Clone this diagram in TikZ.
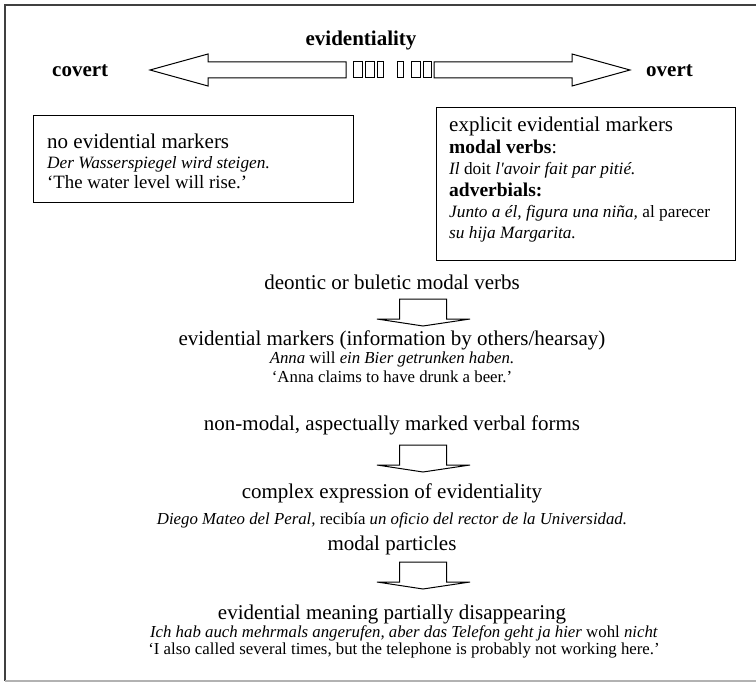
\documentclass[tikz,border=0pt]{standalone}
\usepackage{fontspec}
\setmainfont{Liberation Serif}[
  ItalicFont={Liberation Serif Italic},
  BoldFont={Liberation Serif Bold},
  BoldItalicFont={Liberation Serif Bold Italic}]
\begin{document}
\begin{tikzpicture}[x=1pt,y=-1pt,
  lbl/.style={inner sep=0pt, font=\fontsize{21}{25}\selectfont},
  hdr/.style={inner sep=0pt, font=\fontsize{21}{25}\selectfont\bfseries},
  exm/.style={inner sep=0pt, font=\fontsize{16.8}{20}\selectfont},
  bexm/.style={inner sep=0pt, font=\fontsize{17.3}{20}\selectfont},
  glossbx/.style={inner sep=0pt, font=\fontsize{18.8}{22}\selectfont},
  subhd/.style={inner sep=0pt, font=\fontsize{19.5}{22}\selectfont},
  textbox/.style={draw, line width=1.1pt, inner sep=0pt, anchor=north west},
  block/.style={draw, line width=1pt, line join=miter, fill=white},
  blockdown/.pic={
    \draw[block] (-23.5,0) -- (23.5,0) -- (23.5,20) -- (47,20) -- (0,27)
      -- (-46,20) -- (-23.5,20) -- cycle;
  },
]
\useasboundingbox (0,0) rectangle (756,682);

% page frame
\draw[line width=2pt, black!75] (5,681) -- (5,5) -- (756,5);
\draw[line width=1.5pt, black!30] (5,681) -- (756,681);

% scale of evidentiality
\node[hdr, anchor=base] (ev) at (361,46) {evidentiality};
\node[hdr, anchor=base west] (cov) at (52,77) {covert};
\node[hdr, anchor=base west] (ovt) at (646,77) {overt};

\draw[block] (346,62) -- (208,62) -- (208,54) -- (150,70) -- (208,86)
  -- (208,78) -- (346,78) -- cycle;
\draw[block] (434,62) -- (572,62) -- (572,54) -- (630,70) -- (572,86)
  -- (572,78) -- (434,78) -- cycle;
\foreach \a/\b in {353/362,365/374,377/383,397/403,411/420,423/431}
  \draw[block] (\a,62) rectangle (\b,78);

% covert end
\node[textbox, minimum width=320pt, minimum height=87pt] (nobox) at (33,115) {};
\node[lbl, anchor=base west] (no1) at (47,149) {no evidential markers};
\node[bexm, anchor=base west] (no2) at (47,169) {\itshape Der Wasserspiegel wird steigen.};
\node[glossbx, anchor=base west] (no3) at (47,189) {‘The water level will rise.’};

% overt end
\node[textbox, minimum width=299pt, minimum height=153pt] (exbox) at (436,107) {};
\node[lbl, anchor=base west] (ex1) at (449,132) {explicit evidential markers};
\node[subhd, anchor=base west] (ex2) at (449,154) {\textbf{modal verbs}:};
\node[bexm, anchor=base west] (ex3) at (449,175) {\textit{Il} doit \textit{l\textquotesingle avoir fait par pitié.}};
\node[subhd, anchor=base west] (ex4) at (449,197) {\textbf{adverbials:}};
\node[bexm, anchor=base west] (ex5) at (449,218) {\textit{Junto a él, figura una niña,} al parecer};
\node[bexm, anchor=base west] (ex6) at (449,239) {\textit{su hija Margarita.}};

% grammaticalisation chain
\node[lbl, anchor=base] (deo) at (392,289) {deontic or buletic modal verbs};
\pic at (423,299) {blockdown};
\node[lbl, anchor=base] (hea) at (392,345) {evidential markers (information by others/hearsay)};
\node[exm, anchor=base] (hea1) at (392,363) {\textit{Anna} will \textit{ein Bier getrunken haben.}};
\node[exm, anchor=base] (hea2) at (392,382) {‘Anna claims to have drunk a beer.’};

\node[lbl, anchor=base] (asp) at (392,430) {non-modal, aspectually marked verbal forms};
\pic at (423,445) {blockdown};
\node[lbl, anchor=base] (cpx) at (392,498) {complex expression of evidentiality};
\node[exm, anchor=base] (cpx1) at (392,524) {\textit{Diego Mateo del Peral,} recibía \textit{un oficio del rector de la Universidad.}};

\node[lbl, anchor=base] (prt) at (392,550) {modal particles};
\pic at (423,562) {blockdown};
\node[lbl, anchor=base] (dis) at (392,619) {evidential meaning partially disappearing};
\node[exm, anchor=base] (dis1) at (404,637) {\textit{Ich hab auch mehrmals angerufen, aber das Telefon geht ja hier} wohl \textit{nicht}};
\node[exm, anchor=base] (dis2) at (404,654) {‘I also called several times, but the telephone is probably not working here.’};
\end{tikzpicture}
\end{document}
